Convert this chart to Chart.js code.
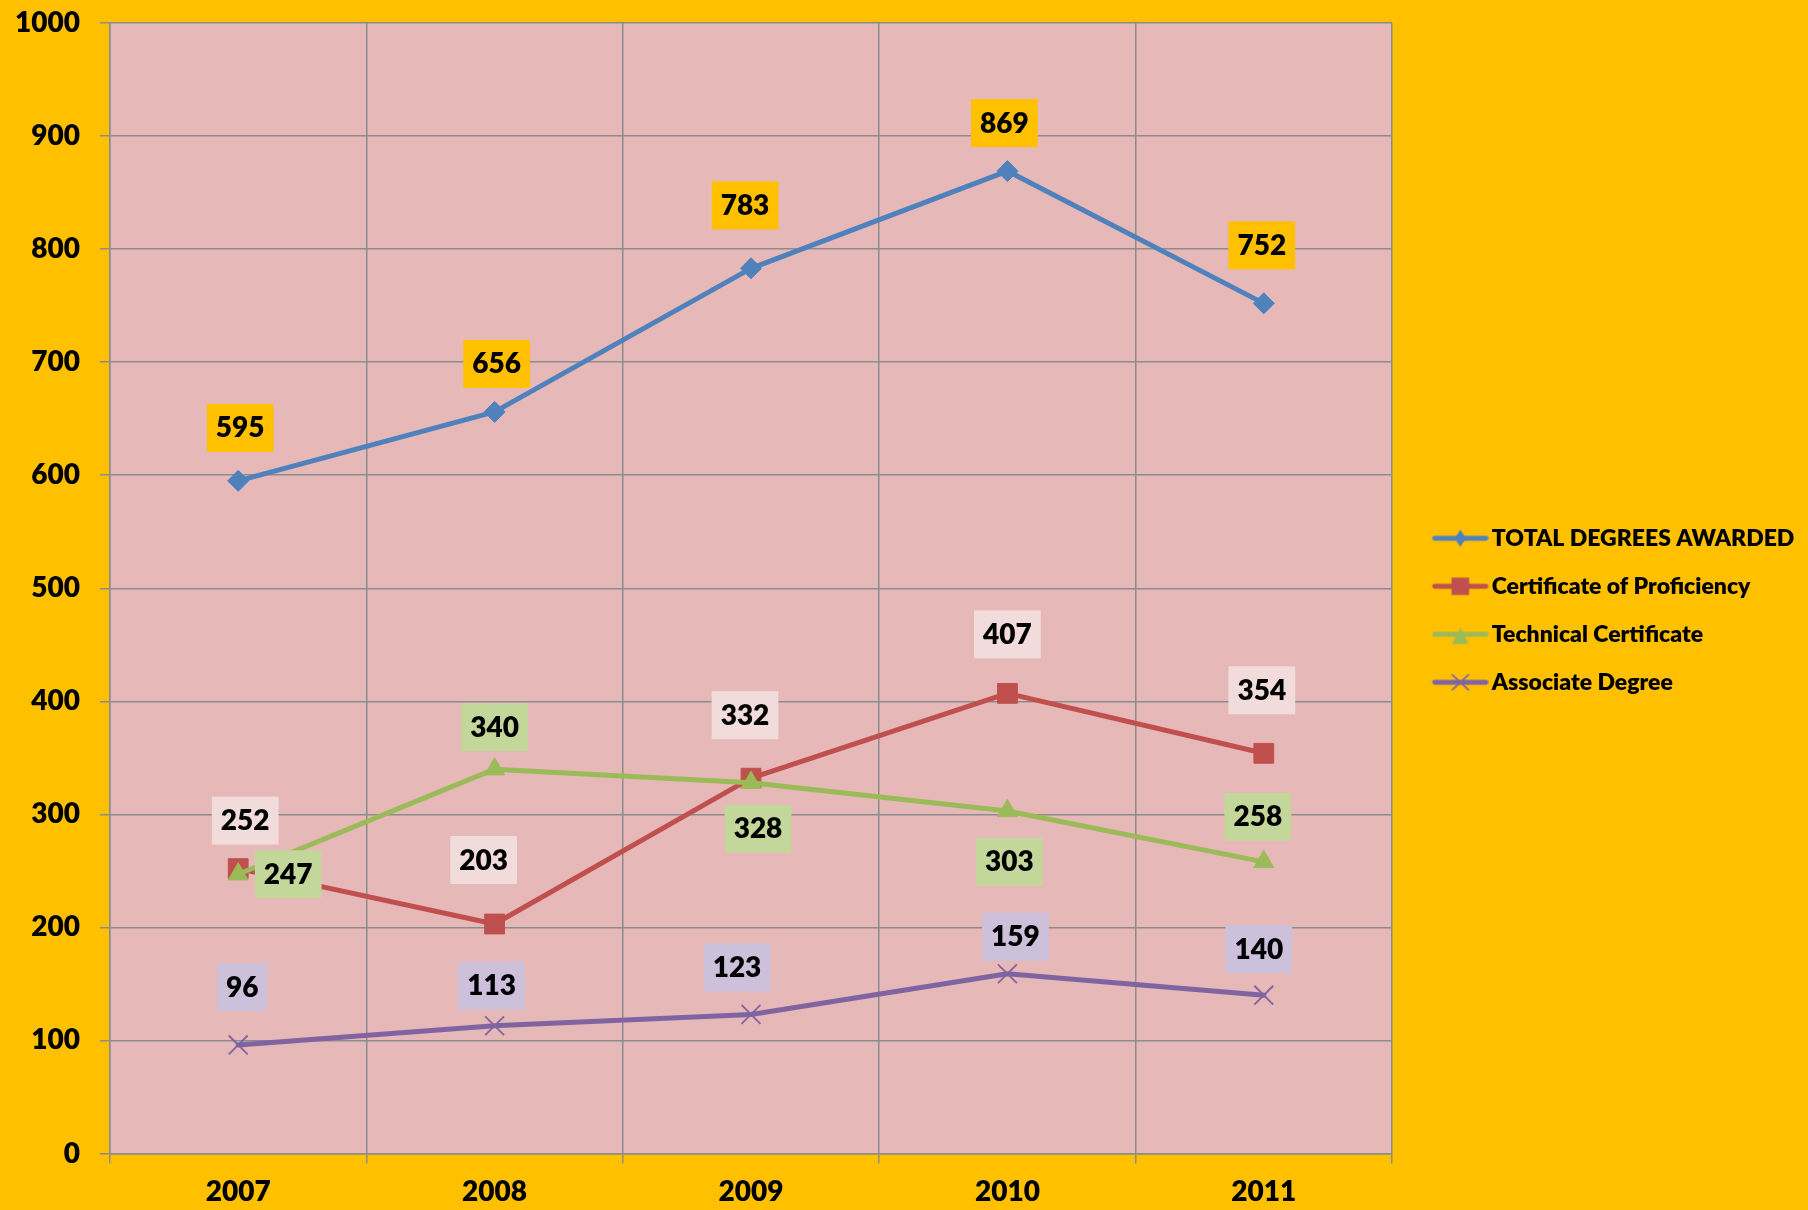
<!DOCTYPE html>
<html>
<head>
<meta charset="utf-8">
<script src="https://cdn.jsdelivr.net/npm/chart.js@4/dist/chart.umd.min.js"></script>
<style>
  html, body { margin: 0; padding: 0; background: #FFC000; }
  #wrap { width: 1808px; height: 1210px; position: relative; }
</style>
</head>
<body>
<div id="wrap"><canvas id="chart"></canvas></div>
<script>
// ── Data ──
const years = ['2007', '2008', '2009', '2010', '2011'];
const seriesNames = ['TOTAL DEGREES AWARDED', 'Certificate of Proficiency', 'Technical Certificate', 'Associate Degree'];
const totalDegrees = [595, 656, 783, 869, 752];
const certProficiency = [252, 203, 332, 407, 354];
const technicalCert = [247, 340, 328, 303, 258];
const associateDegree = [96, 113, 123, 159, 140];
const yMin = 0, yMax = 1000, yStep = 100;

// ── Styles ──
const FONT = 'Lato, "Open Sans", sans-serif';
const WEIGHT = '800';
const lineColors = ['#4F81BD', '#C0504D', '#9BBB59', '#8064A2'];
const labelFills = ['#FFC000', '#F2DCDB', '#C4D79B', '#CCC0DA'];
const gridColor = '#8C8C8C';

// label box centre offsets from each point [dx, dy]
const labelShift = [
  [[2, -53], [2, -48], [-6, -63], [-3, -48], [-2, -58]],
  [[7, -48], [-11, -64], [-6, -63], [0, -59], [-2, -63]],
  [[50, 0], [0, -42], [7, 46], [2, 51], [-6, -45]],
  [[4, -58], [-3, -40], [-14, -47], [8, -37], [-5, -46]]
];

// ── Legend icons (line + marker) ──
function legendIcon(color, shape) {
  const c = document.createElement('canvas');
  c.width = 80; c.height = 26;
  const g = c.getContext('2d');
  const cx = 51.7, cy = 13;
  g.strokeStyle = color; g.fillStyle = color;
  g.lineWidth = 4.8; g.lineCap = 'round';
  g.beginPath(); g.moveTo(26, cy); g.lineTo(77.3, cy); g.stroke();
  g.beginPath();
  if (shape === 'diamond') {
    g.moveTo(cx, cy - 8.4); g.lineTo(cx + 5.8, cy); g.lineTo(cx, cy + 8.4); g.lineTo(cx - 5.8, cy); g.closePath(); g.fill();
  } else if (shape === 'square') {
    g.fillRect(cx - 8.8, cy - 8.7, 17.6, 17.4);
  } else if (shape === 'triangle') {
    g.moveTo(cx, cy - 6.8); g.lineTo(cx + 8.5, cy + 9.8); g.lineTo(cx - 8.5, cy + 9.8); g.closePath(); g.fill();
  } else {
    g.lineWidth = 1.8; g.lineCap = 'butt';
    g.moveTo(cx - 8.5, cy - 7.8); g.lineTo(cx + 8.5, cy + 7.8);
    g.moveTo(cx + 8.5, cy - 7.8); g.lineTo(cx - 8.5, cy + 7.8); g.stroke();
  }
  return c;
}
const legendIcons = [
  legendIcon(lineColors[0], 'diamond'),
  legendIcon(lineColors[1], 'square'),
  legendIcon(lineColors[2], 'triangle'),
  legendIcon(lineColors[3], 'cross')
];

// ── Layout numbers ──
const LEG_FONT = 23, LEG_PAD = 25, LEG_BOX = 63.2;
const PLOT_TOP = 23, PLOT_RIGHT = 1392, PLOT_BOTTOM = 1153.5;
const m = document.createElement('canvas').getContext('2d');
m.font = WEIGHT + ' ' + LEG_FONT + 'px ' + FONT;
const longest = Math.max(...seriesNames.map(n => m.measureText(n).width));
const legendWidth = LEG_PAD + LEG_BOX + LEG_FONT / 2 + longest + 10;
const padRight = Math.max(0, 1808 - PLOT_RIGHT - legendWidth);

// ── Plugins ──
const plotBg = {
  id: 'plotBg',
  beforeDraw(chart) {
    const { ctx, chartArea: a } = chart;
    ctx.save();
    ctx.fillStyle = '#E6B8B7';
    ctx.fillRect(a.left, a.top, a.right - a.left, a.bottom - a.top);
    ctx.restore();
  }
};

const valueLabels = {
  id: 'valueLabels',
  afterDatasetsDraw(chart) {
    const ctx = chart.ctx;
    ctx.save();
    ctx.font = WEIGHT + ' 28px ' + FONT;
    ctx.textAlign = 'center';
    ctx.textBaseline = 'middle';
    chart.data.datasets.forEach((ds, i) => {
      chart.getDatasetMeta(i).data.forEach((pt, j) => {
        const [dx, dy] = labelShift[i][j];
        const text = String(ds.data[j]);
        const w = ctx.measureText(text).width + 18, h = 48;
        const x = pt.x + dx, y = pt.y + dy;
        ctx.fillStyle = labelFills[i];
        ctx.fillRect(x - w / 2, y - h / 2, w, h);
        ctx.fillStyle = '#000';
        ctx.fillText(text, x, y + 0.5);
      });
    });
    ctx.restore();
  }
};

// ── Chart ──
const seriesData = [totalDegrees, certProficiency, technicalCert, associateDegree];
const markers = [
  { pointStyle: 'rectRot', pointRadius: 10.5, pointBorderWidth: 1 },
  { pointStyle: 'rect', pointRadius: 14, pointBorderWidth: 1 },
  { pointStyle: 'triangle', pointRadius: 11.5, pointBorderWidth: 1 },
  { pointStyle: 'crossRot', pointRadius: 13.4, pointBorderWidth: 1.8 }
];

const tickFont = { family: FONT, size: 28, weight: WEIGHT };

new Chart(document.getElementById('chart'), {
  type: 'line',
  data: {
    labels: years,
    datasets: seriesData.map((d, i) => ({
      label: seriesNames[i],
      data: d,
      borderColor: lineColors[i],
      backgroundColor: lineColors[i],
      pointBackgroundColor: lineColors[i],
      pointBorderColor: lineColors[i],
      borderWidth: 5,
      borderJoinStyle: 'round',
      borderCapStyle: 'round',
      tension: 0,
      order: seriesData.length - i,
      ...markers[i]
    }))
  },
  options: {
    responsive: true, maintainAspectRatio: false,
    animation: false,
    events: [],
    // top padding is small so the full-height legend sits right; the y axis holds the plot top
    layout: { padding: { top: 10.6, left: 0, bottom: 0, right: padRight } },
    plugins: {
      tooltip: { enabled: false },
      legend: {
        position: 'right',
        align: 'center',
        labels: {
          usePointStyle: true,
          pointStyleWidth: LEG_BOX,
          padding: LEG_PAD,
          color: '#000',
          font: { family: FONT, size: LEG_FONT, weight: WEIGHT },
          generateLabels: (chart) => chart.data.datasets.map((ds, i) => ({
            text: ds.label,
            pointStyle: legendIcons[i],
            fillStyle: lineColors[i],
            strokeStyle: lineColors[i],
            fontColor: '#000',
            lineWidth: 0,
            hidden: false,
            datasetIndex: i
          }))
        }
      }
    },
    scales: {
      x: {
        offset: true,
        grid: { offset: true, color: gridColor, lineWidth: 1.5, tickLength: 10, drawTicks: true },
        border: { color: gridColor, width: 1.5 },
        ticks: { color: '#000', font: tickFont, padding: 12, maxRotation: 0 },
        afterFit: (s) => { s.height = 1210 - PLOT_BOTTOM; }
      },
      y: {
        min: yMin, max: yMax,
        grid: { color: gridColor, lineWidth: 1.5, tickLength: 10 },
        border: { color: gridColor, width: 1.5 },
        ticks: { stepSize: yStep, color: '#000', font: tickFont, padding: 20, callback: (v) => String(v) },
        afterFit: (s) => { s.width = 110; s.paddingTop = PLOT_TOP; s.paddingBottom = 0; }
      }
    }
  },
  plugins: [plotBg, valueLabels]
});
</script>
</body>
</html>
